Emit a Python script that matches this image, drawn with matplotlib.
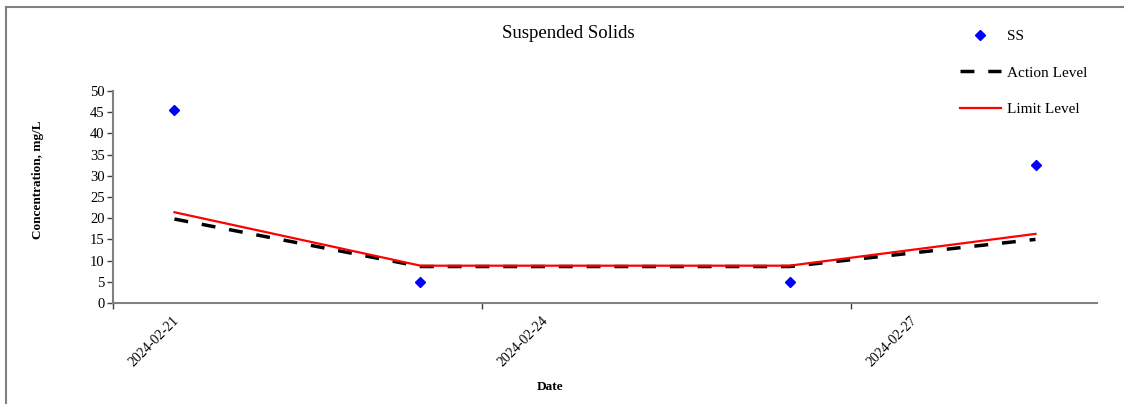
import matplotlib
matplotlib.use("Agg")
import matplotlib.pyplot as plt
import matplotlib.dates as mdates
from matplotlib.lines import Line2D
from matplotlib.transforms import ScaledTranslation
from datetime import datetime

plt.rcParams['font.family'] = ['Liberation Serif', 'DejaVu Serif']

# sampling times and results
sample_times = [datetime(2024, 2, 21, 12), datetime(2024, 2, 23, 12),
                datetime(2024, 2, 26, 12), datetime(2024, 2, 28, 12)]
ss_values = [45.5, 5, 5, 32.5]
action_level = [19.8, 8.6, 8.6, 15.0]
limit_level = [21.4, 8.8, 8.8, 16.3]

tick_dates = [datetime(2024, 2, 21), datetime(2024, 2, 24), datetime(2024, 2, 27)]
x_start = datetime(2024, 2, 21)
x_end = datetime(2024, 2, 29)

fig = plt.figure(figsize=(11.24, 4.04), dpi=100)
ax = fig.add_axes([0.1005, 0.25, 0.8755, 0.5248])

ax.plot(sample_times, action_level, color='black', lw=2.5,
        linestyle=(0, (4.0, 4.0)), label='Action Level', zorder=2)
ax.plot(sample_times, limit_level, color='#FF0000', lw=1.6,
        label='Limit Level', zorder=3)
ax.plot(sample_times, ss_values, linestyle='none', marker='D', markersize=5.5,
        color='#0000FF', label='SS', zorder=4)

ax.set_xlim(x_start, x_end)
ax.set_ylim(0, 50)
ax.set_yticks(range(0, 51, 5))
ax.set_xticks(tick_dates)
ax.xaxis.set_major_formatter(mdates.DateFormatter('%Y-%m-%d'))

for side in ['top', 'right']:
    ax.spines[side].set_visible(False)
for side in ['left', 'bottom']:
    ax.spines[side].set_color('#808080')
    ax.spines[side].set_linewidth(1.5)

ax.tick_params(axis='both', direction='out', length=4, width=1,
               color='#404040', labelsize=10)
ax.tick_params(axis='y', pad=2, labelsize=10.5)

shift = ScaledTranslation(0.64, -0.05, fig.dpi_scale_trans)
for lab in ax.get_xticklabels():
    lab.set_rotation(45)
    lab.set_ha('right')
    lab.set_va('center')
    lab.set_rotation_mode('anchor')
    lab.set_transform(lab.get_transform() + shift)

ax.set_ylabel('Concentration, mg/L', fontsize=9.5, fontweight='bold')
ax.yaxis.set_label_coords(-0.070, 0.58)
ax.set_xlabel('Date', fontsize=9.5, fontweight='bold')
ax.xaxis.set_label_coords(0.444, -0.368)

fig.text(568 / 1124, 1 - 33 / 404, 'Suspended Solids', fontsize=13.5,
         ha='center', va='center')

handles, labels = ax.get_legend_handles_labels()
order = [2, 0, 1]
fig.legend([handles[i] for i in order], [labels[i] for i in order],
           loc='upper left', bbox_to_anchor=(952 / 1124, 1 - 22 / 404),
           frameon=False, fontsize=11, handlelength=2.7, handletextpad=0.4,
           labelspacing=1.48, borderpad=0)

# outer chart border (left and top edges)
fig.add_artist(Line2D([6 / 1124, 6 / 1124], [0, 1 - 7 / 404],
                      transform=fig.transFigure, color='#808080', lw=1.5))
fig.add_artist(Line2D([6 / 1124, 1], [1 - 7 / 404, 1 - 7 / 404],
                      transform=fig.transFigure, color='#808080', lw=1.5))

fig.savefig('out.png', dpi=100)
